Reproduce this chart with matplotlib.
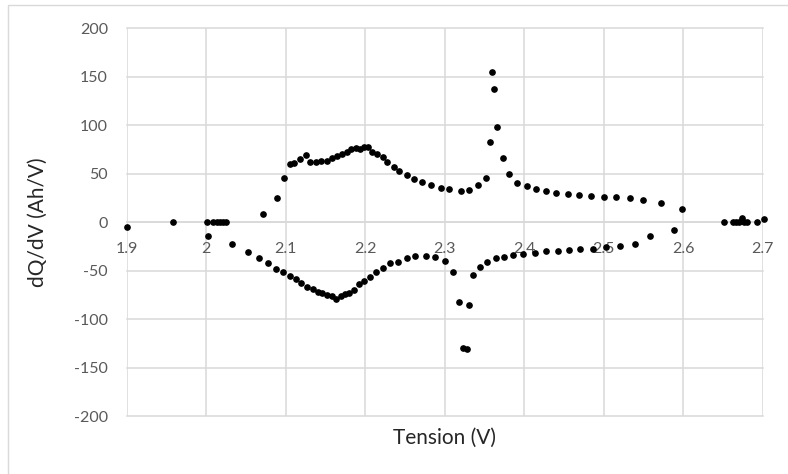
import matplotlib.pyplot as plt
from matplotlib.patches import Rectangle

# 충전 구간 dQ/dV
charge_v = [1.900, 1.958, 2.001, 2.009, 2.013, 2.017, 2.021, 2.025,
            2.071, 2.089, 2.098, 2.105, 2.111, 2.118, 2.125, 2.131, 2.138, 2.145,
            2.152, 2.158, 2.164, 2.171, 2.177, 2.182, 2.188, 2.194, 2.198, 2.203,
            2.209, 2.215, 2.222, 2.228, 2.236, 2.243, 2.252, 2.261, 2.272, 2.283,
            2.295, 2.306, 2.320, 2.331, 2.342, 2.352, 2.357, 2.359, 2.362, 2.366,
            2.373, 2.381, 2.391, 2.403, 2.415, 2.427, 2.440, 2.455, 2.469, 2.484,
            2.500, 2.516, 2.533, 2.550, 2.572, 2.599,
            2.651, 2.663, 2.666, 2.670, 2.674, 2.677, 2.680, 2.693, 2.701]
charge_dqdv = [-4.5, 0, 0, 0, 0, 0, 0, 0,
               8.5, 24.7, 45.3, 59.8, 61.4, 65.3, 69.4, 61.9, 61.9, 63.2,
               63.2, 66.6, 68.4, 70.1, 72.8, 75.2, 76.9, 75.2, 77.6, 77.6,
               72.8, 70.4, 67.7, 61.9, 57.3, 52.9, 48.8, 44.3, 41.2, 38.1,
               35.4, 34.3, 32.3, 33.3, 38.8, 45.3, 82.5, 154.6, 137.1, 97.9,
               66.6, 49.8, 40.2, 37.0, 34.5, 32.5, 30.2, 29.2, 28.1, 27.1,
               25.8, 25.8, 24.7, 22.7, 19.6, 13.7,
               0, 0, 0, 0, 4.8, 0, 0, 0, 3.1]

# 방전 구간 dQ/dV
discharge_v = [2.002, 2.033, 2.052, 2.066, 2.078, 2.088, 2.096, 2.105, 2.113,
               2.119, 2.127, 2.134, 2.140, 2.146, 2.152, 2.158, 2.163, 2.169,
               2.175, 2.180, 2.186, 2.192, 2.199, 2.206, 2.214, 2.222, 2.231,
               2.241, 2.252, 2.263, 2.276, 2.288, 2.300, 2.310, 2.318, 2.323,
               2.328, 2.330, 2.335, 2.344, 2.353, 2.364, 2.374, 2.386, 2.399,
               2.413, 2.427, 2.442, 2.456, 2.470, 2.487, 2.503, 2.520, 2.539,
               2.558, 2.588]
discharge_dqdv = [-14.0, -22.7, -30.9, -37.1, -42.3, -48.1, -50.9, -55.4, -58.8,
                  -62.9, -66.4, -69.1, -71.5, -73.2, -74.6, -76.0, -78.8, -75.7,
                  -74.2, -73.2, -69.8, -63.6, -60.2, -56.1, -51.0, -46.8, -42.3,
                  -40.6, -37.1, -34.7, -34.7, -36.1, -39.6, -51.2, -81.8, -129.6,
                  -130.6, -84.9, -54.7, -46.1, -41.3, -37.1, -36.1, -33.7, -33.0,
                  -31.3, -29.6, -29.3, -28.4, -27.5, -27.2, -25.1, -24.1, -22.0,
                  -14.1, -7.9]

x_ticks = [1.9, 2.0, 2.1, 2.2, 2.3, 2.4, 2.5, 2.6, 2.7]
x_tick_labels = ["1.9", "2", "2.1", "2.2", "2.3", "2.4", "2.5", "2.6", "2.7"]
y_ticks = [-200, -150, -100, -50, 0, 50, 100, 150, 200]

GRID = "#d9d9d9"
TICK = "#595959"

plt.rcParams["font.family"] = ["Lato", "DejaVu Sans"]
plt.rcParams["axes.unicode_minus"] = False

fig = plt.figure(figsize=(7.88, 4.74), dpi=100)
ax = fig.add_axes([0.1608, 0.1217, 0.8071, 0.8186])

# 차트 외곽 테두리
fig.patches.append(Rectangle((0.0102, -0.05), 1.2, 1.0395, transform=fig.transFigure,
                             fill=False, edgecolor=GRID, linewidth=1.0))

ax.plot(charge_v, charge_dqdv, "o", color="black", markersize=3.8, clip_on=False, zorder=3)
ax.plot(discharge_v, discharge_dqdv, "o", color="black", markersize=3.8, clip_on=False, zorder=3)

ax.set_xlim(1.9, 2.7)
ax.set_ylim(-200, 200)
ax.set_xticks(x_ticks)
ax.set_xticklabels(x_tick_labels)
ax.set_yticks(y_ticks)

ax.grid(True, color=GRID, linewidth=1.1)
for line in ax.get_xgridlines() + ax.get_ygridlines():
    line.set_clip_on(False)
ax.set_axisbelow(True)

for side in ["top", "right", "left"]:
    ax.spines[side].set_visible(False)
ax.spines["bottom"].set_position(("data", 0))
ax.spines["bottom"].set_color(GRID)
ax.spines["bottom"].set_linewidth(1.1)

ax.tick_params(axis="both", length=0, labelsize=11.5, labelcolor=TICK)
ax.tick_params(axis="x", pad=14)
ax.tick_params(axis="y", pad=13.5)

ax.set_xlabel("Tension (V)", fontsize=15, color="#262626")
ax.xaxis.set_label_coords(0.5, -0.03)
ax.set_ylabel("dQ/dV (Ah/V)", fontsize=15, color="#262626")
ax.yaxis.set_label_coords(-0.124, 0.5)

fig.savefig("out.png", dpi=100)
